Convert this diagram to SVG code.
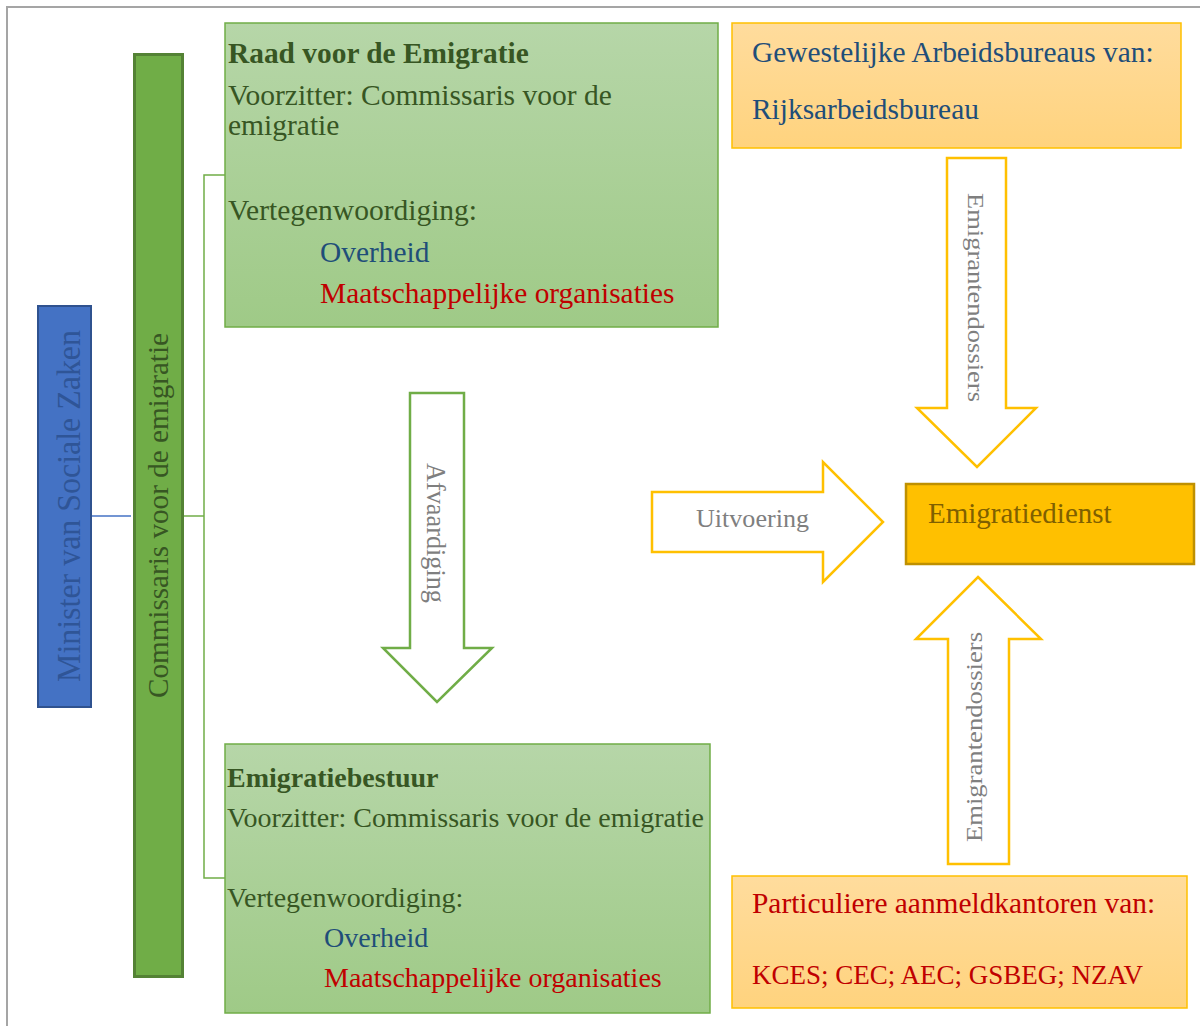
<svg xmlns="http://www.w3.org/2000/svg" width="1200" height="1026" viewBox="0 0 1200 1026">
<defs>
<linearGradient id="gGreen" x1="0" y1="0" x2="0" y2="1">
<stop offset="0" stop-color="#B6D6A8"/>
<stop offset="1" stop-color="#9FCA87"/>
</linearGradient>
<linearGradient id="gOrange" x1="0" y1="0" x2="0" y2="1">
<stop offset="0" stop-color="#FFDC9D"/>
<stop offset="1" stop-color="#FFD37E"/>
</linearGradient>
<style>
text{font-family:"Liberation Serif","Times New Roman",serif;}
.g{fill:url(#gGreen);stroke:#70AD47;stroke-width:1.5;}
.o{fill:url(#gOrange);stroke:#FFC000;stroke-width:1.5;}
.tg{fill:#375623;}
.tb{fill:#1F4E79;}
.tr{fill:#C00000;}
.lab{fill:#7F7F7F;}
.ya{fill:#FFFFFF;stroke:#FFC000;stroke-width:2.5;}
.ga{fill:#FFFFFF;stroke:#70AD47;stroke-width:2.5;}
.ln{fill:none;stroke-width:1.5;}
</style>
</defs>
<rect x="7" y="7" width="1200" height="1030" fill="#FFFFFF" stroke="#A5A5A5" stroke-width="2"/>

<g id="connectors">
<line class="ln" x1="92" y1="516" x2="131" y2="516" stroke="#4472C4"/>
<polyline class="ln" points="183,516 204,516" stroke="#70AD47"/>
<polyline class="ln" points="225,175 204,175 204,878 225,878" stroke="#70AD47"/>
<g id="arrow-afvaardiging">
<polygon class="ga" points="410,393 464,393 464,648 492,648 437,702 383,648 410,648"/>
<text class="lab" transform="translate(427,463) rotate(90)" font-size="27" textLength="140" lengthAdjust="spacingAndGlyphs">Afvaardiging</text>
</g>
<g id="arrow-uitvoering">
<polygon class="ya" points="652,492 823,492 823,462 883,522 823,582 823,552 652,552"/>
<text class="lab" x="696" y="527" font-size="26" textLength="113" lengthAdjust="spacingAndGlyphs">Uitvoering</text>
</g>
<g id="arrow-dossiers-top">
<polygon class="ya" points="947,158 1006,158 1006,408 1036,408 977,467 917,408 947,408"/>
<text class="lab" transform="translate(968,193) rotate(90)" font-size="23" textLength="209" lengthAdjust="spacingAndGlyphs">Emigrantendossiers</text>
</g>
<g id="arrow-dossiers-bottom">
<polygon class="ya" points="978,577 1041,639 1009,639 1009,864 948,864 948,639 916,639"/>
<text class="lab" transform="translate(982,842) rotate(-90)" font-size="23" textLength="210" lengthAdjust="spacingAndGlyphs">Emigrantendossiers</text>
</g>
</g>

<g id="minister">
<rect x="38" y="306" width="53" height="401" fill="#4472C4" stroke="#2F528F" stroke-width="2"/>
<text transform="translate(80,682) rotate(-90)" fill="#2F5597" font-size="33" textLength="352" lengthAdjust="spacingAndGlyphs">Minister van Sociale Zaken</text>
</g>

<g id="commissaris">
<rect x="134.5" y="54.5" width="48" height="922" fill="#70AD47" stroke="#548235" stroke-width="3"/>
<text transform="translate(168,698) rotate(-90)" fill="#375623" font-size="30" textLength="365" lengthAdjust="spacingAndGlyphs">Commissaris voor de emigratie</text>
</g>

<g id="raad">
<rect class="g" x="225" y="23" width="493" height="304"/>
<text class="tg" x="228" y="63" font-weight="bold" font-size="29.4">Raad voor de Emigratie</text>
<text class="tg" x="228" y="105" font-size="29.5">Voorzitter: Commissaris voor de</text>
<text class="tg" x="228" y="135" font-size="29.5">emigratie</text>
<text class="tg" x="228" y="220" font-size="29.5">Vertegenwoordiging:</text>
<text class="tb" x="320" y="262" font-size="29.4">Overheid</text>
<text class="tr" x="320" y="303" font-size="29.4">Maatschappelijke organisaties</text>
</g>

<g id="bestuur">
<rect class="g" x="225" y="744" width="485" height="269"/>
<text class="tg" x="227" y="787" font-weight="bold" font-size="28">Emigratiebestuur</text>
<text class="tg" x="227" y="827" font-size="28">Voorzitter: Commissaris voor de emigratie</text>
<text class="tg" x="227" y="907" font-size="28">Vertegenwoordiging:</text>
<text class="tb" x="324" y="947" font-size="28">Overheid</text>
<text class="tr" x="324" y="987" font-size="28">Maatschappelijke organisaties</text>
</g>

<g id="gewestelijke">
<rect class="o" x="732" y="23" width="449" height="125"/>
<text class="tb" x="752" y="62" font-size="29.4">Gewestelijke Arbeidsbureaus van:</text>
<text class="tb" x="752" y="119" font-size="29.4">Rijksarbeidsbureau</text>
</g>

<g id="emigratiedienst">
<rect x="906" y="484" width="288" height="80" fill="#FFC000" stroke="#BF9000" stroke-width="2.5"/>
<text x="928" y="523" fill="#7F6000" font-size="29">Emigratiedienst</text>
</g>

<g id="particuliere">
<rect class="o" x="732" y="876" width="455" height="132"/>
<text class="tr" x="752" y="913" font-size="29.4">Particuliere aanmeldkantoren van:</text>
<text class="tr" x="752" y="984" font-size="27">KCES; CEC; AEC; GSBEG; NZAV</text>
</g>
</svg>
